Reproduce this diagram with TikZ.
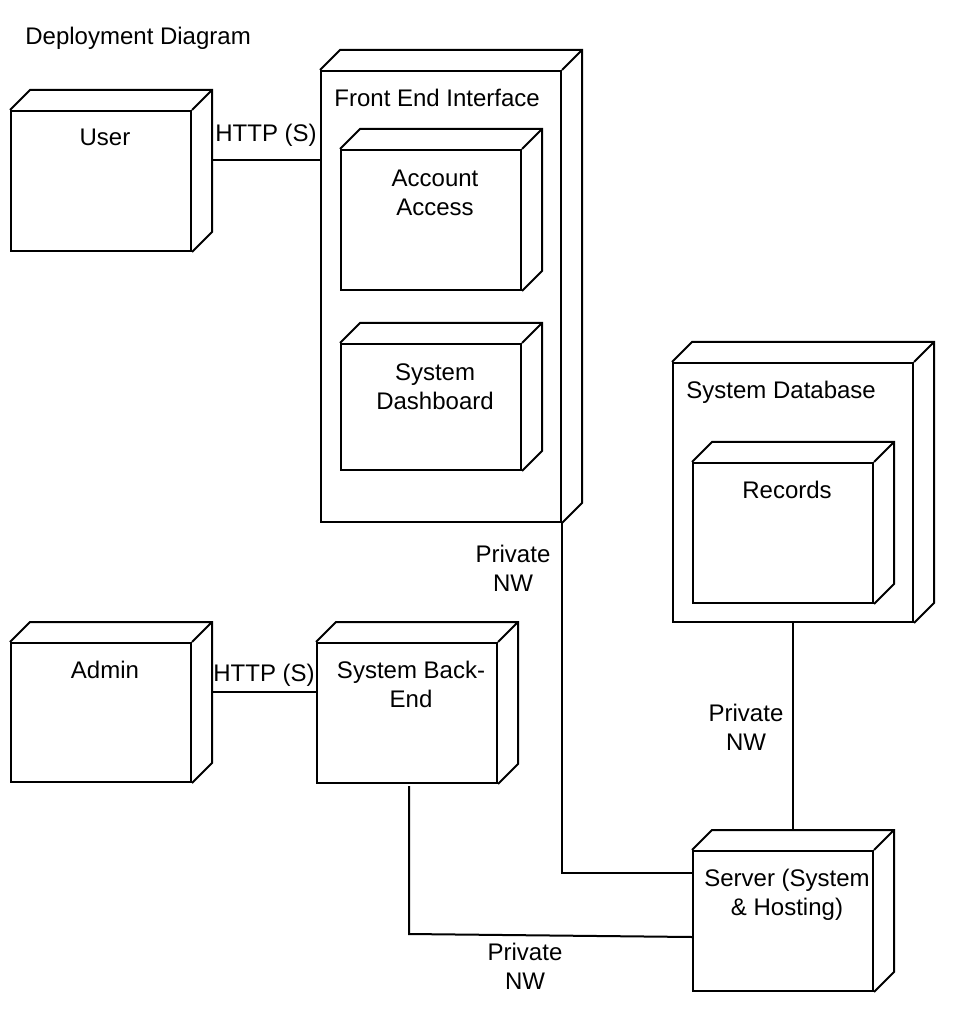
\documentclass[tikz,border=0pt]{standalone}
\usepackage{fontspec}
\setmainfont{Liberation Sans}
\begin{document}
\begin{tikzpicture}[x=0.5pt,y=-0.5pt,
  edge/.style={line width=1pt},
  devbox/.style={draw, edge, inner sep=0pt},
  txt/.style={font=\fontsize{12}{14.5}\selectfont, inner sep=0pt, align=center},
  inlabel/.style={txt, anchor=north, xshift=2pt, yshift=-9.4pt},
  leftlabel/.style={txt, anchor=north west, xshift=7pt, yshift=-9.5pt},
]
\useasboundingbox (0,0) rectangle (960,1020);

% side and top faces of a 3D device box
\newcommand\depthfaces[1]{%
  \draw[edge] (#1.north west) -- ++(10pt,10pt)
    -- ([shift={(10pt,10pt)}]#1.north east)
    -- ([shift={(10pt,10pt)}]#1.south east) -- (#1.south east)
    (#1.north east) -- ++(10pt,10pt);}

\node[txt, anchor=west] (title) at (25,38) {Deployment Diagram};

% clients
\node[devbox, minimum width=90pt, minimum height=70pt,
  label={[inlabel]north:User}] (user) at (101,181) {};
\depthfaces{user}
\node[devbox, minimum width=90pt, minimum height=69.5pt,
  label={[inlabel]north:Admin}] (admin) at (101,712.5) {};
\depthfaces{admin}

% front end with its components
\node[devbox, minimum width=120pt, minimum height=225.5pt,
  label={[leftlabel]north west:Front End Interface}] (fe) at (441,296.5) {};
\depthfaces{fe}
\node[devbox, minimum width=90pt, minimum height=70pt,
  label={[inlabel, yshift=-0.8pt]north:{Account\\Access}}] (acc) at (431,220) {};
\depthfaces{acc}
\node[devbox, minimum width=90pt, minimum height=63pt,
  label={[inlabel, yshift=-0.8pt]north:{System\\Dashboard}}] (dash) at (431,407) {};
\depthfaces{dash}

% back end
\node[devbox, minimum width=90pt, minimum height=70pt,
  label={[inlabel]north:{System Back-\\End}}] (be) at (407,713) {};
\depthfaces{be}

% database
\node[devbox, minimum width=120pt, minimum height=129.5pt,
  label={[leftlabel]north west:System Database}] (db) at (793,492.5) {};
\depthfaces{db}
\node[devbox, minimum width=90pt, minimum height=70pt,
  label={[inlabel]north:Records}] (rec) at (783,533) {};
\depthfaces{rec}

% server
\node[devbox, minimum width=90pt, minimum height=70pt,
  label={[inlabel]north:{Server (System\\\& Hosting)}}] (srv) at (783,921) {};
\depthfaces{srv}

% connector end points
\coordinate (srvtop) at ([yshift=10pt]srv.north);
\coordinate (userport) at ([shift={(10pt,10.5pt)}]user.east);
\coordinate (adminport) at ([shift={(10pt,10.25pt)}]admin.east);

% connectors
\draw[edge] (userport) -- (userport -| fe.west)
  node[txt, midway, yshift=12.5pt] (http1) {HTTP (S)};
\draw[edge] (adminport) -- (adminport -| be.west)
  node[txt, midway, yshift=8.5pt] (http2) {HTTP (S)};
\draw[edge] (fe.south east) |- ([yshift=24pt]srv.west);
\draw[edge] (db.south) -- (db.south |- srvtop);
\draw[edge] ([shift={(1pt,-1pt)}]be.south) -- ++(0pt,-74pt) -- ([yshift=-8pt]srv.west);

% link labels
\node[txt] (nw1) at (513,568.5) {Private\\NW};
\node[txt] (nw2) at (746,727.5) {Private\\NW};
\node[txt] (nw3) at (525,966.5) {Private\\NW};
\end{tikzpicture}
\end{document}
